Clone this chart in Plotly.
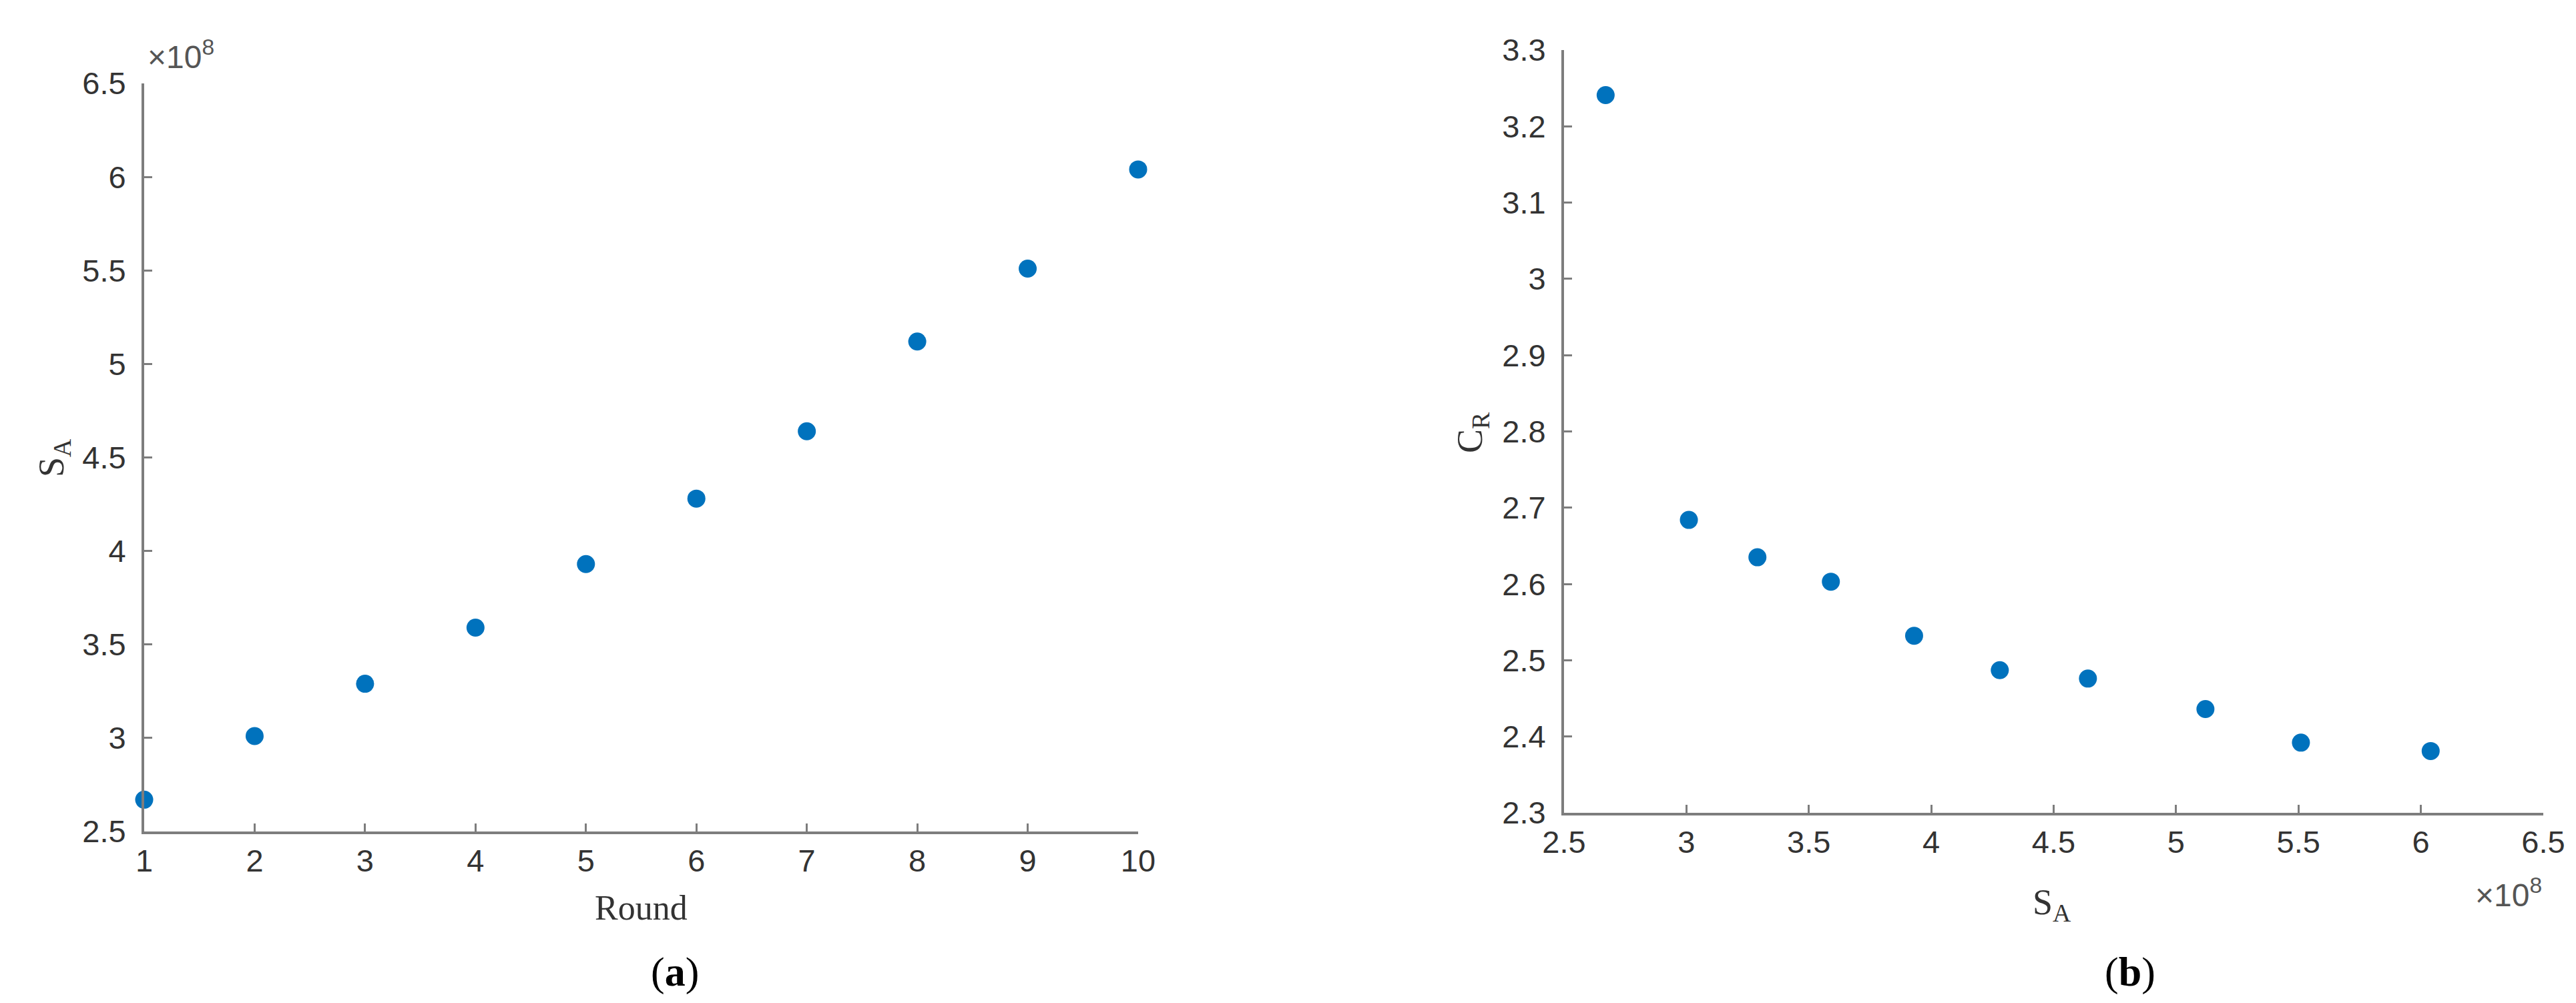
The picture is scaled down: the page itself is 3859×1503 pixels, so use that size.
import plotly.graph_objects as go

# data
rounds = [1, 2, 3, 4, 5, 6, 7, 8, 9, 10]
s_a = [2.67e8, 3.01e8, 3.29e8, 3.59e8, 3.93e8, 4.28e8, 4.64e8, 5.12e8, 5.51e8, 6.04e8]
c_r = [3.241, 2.684, 2.635, 2.603, 2.532, 2.487, 2.476, 2.436, 2.392, 2.381]

sa_ticks = [2.5e8, 3e8, 3.5e8, 4e8, 4.5e8, 5e8, 5.5e8, 6e8, 6.5e8]
sa_ticktext = ["2.5", "3", "3.5", "4", "4.5", "5", "5.5", "6", "6.5"]
cr_ticks = [2.3, 2.4, 2.5, 2.6, 2.7, 2.8, 2.9, 3.0, 3.1, 3.2, 3.3]
cr_ticktext = ["2.3", "2.4", "2.5", "2.6", "2.7", "2.8", "2.9", "3", "3.1", "3.2", "3.3"]

W, H = 3859, 1503
blue = "#0072BD"
axcol = "#7d7d7d"
tickfont = dict(family="Liberation Sans", size=47, color="#333333")
serif = "Liberation Serif"


def px(x):
    return x / W


def py(y):
    return (H - y) / H


fig = go.Figure()
fig.add_trace(go.Scatter(x=rounds, y=s_a, mode="markers", cliponaxis=False,
                         marker=dict(color=blue, size=27),
                         xaxis="x", yaxis="y", showlegend=False))
fig.add_trace(go.Scatter(x=s_a, y=c_r, mode="markers", cliponaxis=False,
                         marker=dict(color=blue, size=27),
                         xaxis="x2", yaxis="y2", showlegend=False))

axis_common = dict(showline=True, linecolor=axcol, linewidth=4,
                   ticks="inside", ticklen=12, tickwidth=3, tickcolor=axcol,
                   showgrid=False, zeroline=False, tickfont=tickfont,
                   automargin=False)

fig.update_layout(
    width=W, height=H,
    margin=dict(l=0, r=0, t=0, b=0),
    plot_bgcolor="white", paper_bgcolor="white",
    xaxis=dict(domain=[px(208), px(1697)], range=[1, 10], anchor="y",
               tickvals=rounds, ticklabelstandoff=0, **axis_common),
    yaxis=dict(domain=[py(1238), py(117)], range=[2.5e8, 6.5e8], anchor="x",
               tickvals=sa_ticks, ticktext=sa_ticktext,
               ticklabelstandoff=14, **axis_common),
    xaxis2=dict(domain=[px(2335), px(3802)], range=[2.5e8, 6.5e8], anchor="y2",
                tickvals=sa_ticks, ticktext=sa_ticktext,
                ticklabelstandoff=0, **axis_common),
    yaxis2=dict(domain=[py(1210), py(67)], range=[2.3, 3.3], anchor="x2",
                tickvals=cr_ticks, ticktext=cr_ticktext,
                ticklabelstandoff=14, **axis_common),
)

ann = [
    dict(text="×10<sup>8</sup>", x=px(211), y=py(106), xanchor="left", yanchor="bottom",
         font=dict(family="Liberation Sans", size=48, color="#555555")),
    dict(text="×10<sup>8</sup>", x=px(3802), y=py(1362), xanchor="right", yanchor="bottom",
         font=dict(family="Liberation Sans", size=48, color="#555555")),
    dict(text="Round", x=px(952), y=py(1352), xanchor="center", yanchor="middle",
         font=dict(family=serif, size=52, color="#333333")),
    dict(text="S<sub>A</sub>", x=px(3066), y=py(1347), xanchor="center", yanchor="middle",
         font=dict(family=serif, size=54, color="#333333")),
    dict(text="S<sub>A</sub>", x=px(72), y=py(678), xanchor="center", yanchor="middle",
         textangle=-90, font=dict(family=serif, size=54, color="#333333")),
    dict(text="C<sub>R</sub>", x=px(2197), y=py(640), xanchor="center", yanchor="middle",
         textangle=-90, font=dict(family=serif, size=54, color="#333333")),
    dict(text="(<b>a</b>)", x=px(1003), y=py(1448), xanchor="center", yanchor="middle",
         font=dict(family=serif, size=62, color="black")),
    dict(text="(<b>b</b>)", x=px(3183), y=py(1448), xanchor="center", yanchor="middle",
         font=dict(family=serif, size=62, color="black")),
]
for a in ann:
    a.update(xref="paper", yref="paper", showarrow=False)
fig.update_layout(annotations=ann)

fig.write_html("out.html")
